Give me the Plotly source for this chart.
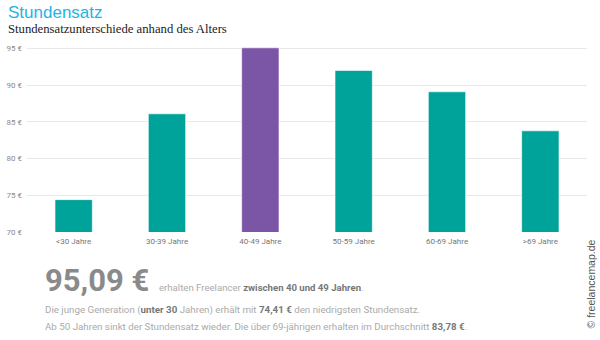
import plotly.graph_objects as go

categories = ["<30 Jahre", "30-39 Jahre", "40-49 Jahre", "50-59 Jahre", "60-69 Jahre", ">69 Jahre"]
values = [74.41, 86.1, 95.09, 92.0, 89.1, 83.78]
bar_colors = ["#00a39a", "#00a39a", "#7b55a6", "#00a39a", "#00a39a", "#00a39a"]
y_ticks = [70, 75, 80, 85, 90, 95]
y_tick_text = [f"{v} €" for v in y_ticks]

W, H = 600, 340
ml, mr, mt, mb = 27, 13, 46.5, 107.7
pw, ph = W - ml - mr, H - mt - mb

def px(x):
    return (x - ml) / pw

def py(y):
    return (H - mb - y) / ph

fig = go.Figure(go.Bar(
    x=categories, y=values,
    marker=dict(color=bar_colors, line=dict(color="rgba(255,255,255,0.6)", width=1)),
    width=0.4,
    hoverinfo="skip",
))

fig.update_layout(
    width=W, height=H,
    margin=dict(l=ml, r=mr, t=mt, b=mb, autoexpand=False),
    paper_bgcolor="white", plot_bgcolor="white",
    showlegend=False,
    font=dict(family="Roboto", color="#888"),
    xaxis=dict(showgrid=False, showline=False, ticks="", tickfont=dict(size=8, color="#777"),
               ticklabelstandoff=3),
    yaxis=dict(range=[70, 95.2], tickmode="array", tickvals=y_ticks, ticktext=y_tick_text,
               showgrid=True, automargin=False,
               gridcolor="#e8e8e8", gridwidth=1, zeroline=False, showline=False,
               tickfont=dict(size=8, color="#888"), ticklabelstandoff=4),
)

ann = []
ann.append(dict(text="Stundensatz", x=px(6), y=py(12), xanchor="left", yanchor="middle",
                font=dict(family="Arial", size=17, color="#22b4e6")))
ann.append(dict(text="Stundensatzunterschiede anhand des Alters", x=px(6), y=py(28),
                xanchor="left", yanchor="middle",
                font=dict(family="Liberation Serif", size=12.7, color="#222")))
ann.append(dict(text="<b>95,09 €</b>", x=px(43), y=py(281), xanchor="left", yanchor="middle",
                font=dict(family="Roboto", size=31, color="#8a8a8a")))
ann.append(dict(text="erhalten Freelancer <b><span style='color:#777'>zwischen 40 und 49 Jahren</span></b>.", x=px(157), y=py(288),
                xanchor="left", yanchor="middle",
                font=dict(family="Roboto", size=9.6, color="#aaa")))
ann.append(dict(text="Die junge Generation (<b><span style='color:#777'>unter 30</span></b> Jahren) erhält mit <b><span style='color:#777'>74,41 €</span></b> den niedrigsten Stundensatz.",
                x=px(43), y=py(311), xanchor="left", yanchor="middle",
                font=dict(family="Roboto", size=9.75, color="#aaa")))
ann.append(dict(text="Ab 50 Jahren sinkt der Stundensatz wieder. Die über 69-jährigen erhalten im Durchschnitt <b><span style='color:#777'>83,78 €</span></b>.",
                x=px(43), y=py(327), xanchor="left", yanchor="middle",
                font=dict(family="Roboto", size=9.75, color="#aaa")))
ann.append(dict(text="© freelancemap.de", x=px(591), y=py(285), xanchor="center", yanchor="middle",
                textangle=-90, font=dict(family="Arial", size=10.5, color="#555")))

for a in ann:
    a.update(xref="paper", yref="paper", showarrow=False)
fig.update_layout(annotations=ann)

fig.write_html("out.html")
